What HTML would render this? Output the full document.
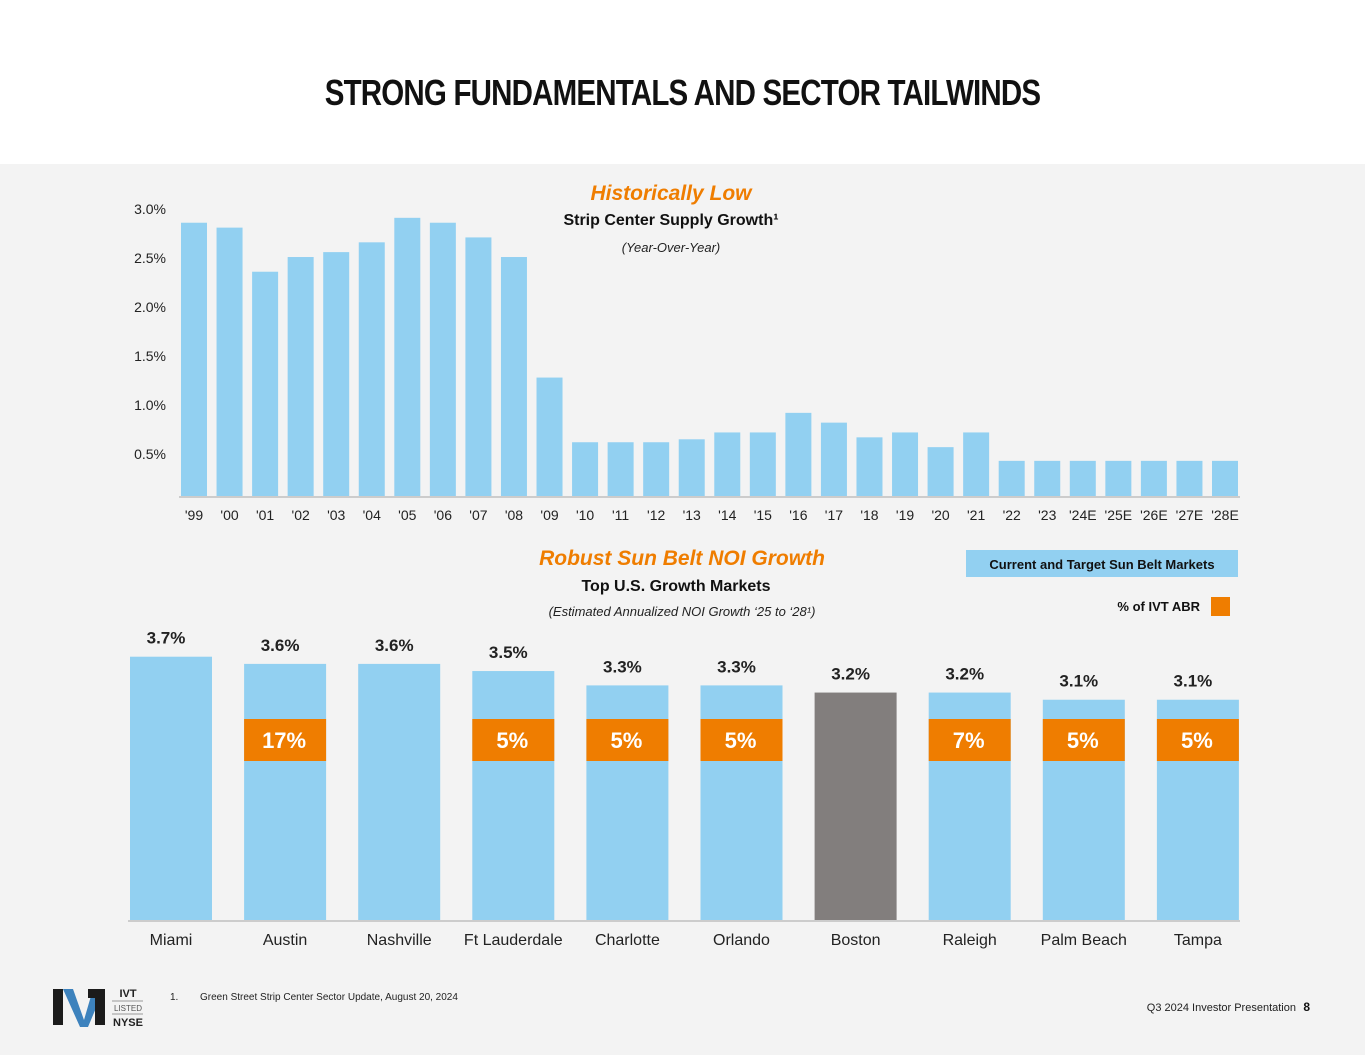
<!DOCTYPE html>
<html><head><meta charset="utf-8"><style>
body{margin:0;width:1365px;height:1055px;background:#fff;font-family:"Liberation Sans",sans-serif;overflow:hidden;position:relative}
#title{position:absolute;top:72px;width:100%;text-align:center;font-size:36px;font-weight:bold;letter-spacing:-1px;transform:scaleX(0.82);color:#111}
#panel{position:absolute;top:164px;left:0;width:1365px;height:891px;background:#f3f3f3}
svg{position:absolute;top:0;left:0}
</style></head><body>
<div id="title">STRONG FUNDAMENTALS AND SECTOR TAILWINDS</div>
<div id="panel"></div>
<svg id="chart" width="1365" height="1055" font-family="Liberation Sans, sans-serif">
<text x="671" y="200" text-anchor="middle" font-size="21" font-weight="bold" font-style="italic" fill="#ef7d00">Historically Low</text>
<text x="671" y="225" text-anchor="middle" font-size="16" font-weight="bold" fill="#111">Strip Center Supply Growth¹</text>
<text x="671" y="252" text-anchor="middle" font-size="13" font-style="italic" fill="#222">(Year-Over-Year)</text>
<text x="682" y="565" text-anchor="middle" font-size="21" font-weight="bold" font-style="italic" fill="#ef7d00">Robust Sun Belt NOI Growth</text>
<text x="676" y="591" text-anchor="middle" font-size="16" font-weight="bold" fill="#111">Top U.S. Growth Markets</text>
<text x="682" y="616" text-anchor="middle" font-size="13" font-style="italic" fill="#222">(Estimated Annualized NOI Growth ‘25 to ‘28¹)</text>
<rect x="966" y="550" width="272" height="27" fill="#92d0f1"/>
<text x="1102" y="569" text-anchor="middle" font-size="13" font-weight="bold" fill="#111">Current and Target Sun Belt Markets</text>
<text x="1200" y="611" text-anchor="end" font-size="13" font-weight="bold" fill="#111">% of IVT ABR</text>
<rect x="1211" y="597" width="19" height="19" fill="#ef7d00"/>
<g id="topchart"></g>
<g id="botchart"></g>
<g>
<polygon points="53,989 63,989 63,1025 53,1025" fill="#1b1b1b"/>
<polygon points="63,989 73,989 84,1020 93,989 104,989 88,1027 80,1027" fill="#3d82bd"/>
<polygon points="95,989 105,989 105,1025 95,1025" fill="#1b1b1b"/>
<rect x="88" y="989" width="16" height="9" fill="#1b1b1b"/>
<text x="128" y="997" text-anchor="middle" font-size="11" font-weight="bold" fill="#222">IVT</text>
<line x1="112" y1="1001" x2="143" y2="1001" stroke="#999"/>
<text x="128" y="1011" text-anchor="middle" font-size="8" fill="#555">LISTED</text>
<line x1="112" y1="1014" x2="143" y2="1014" stroke="#999"/>
<text x="128" y="1026" text-anchor="middle" font-size="11" font-weight="bold" fill="#222">NYSE</text>
</g>
<text x="170" y="1000" font-size="10" fill="#222">1.</text>
<text x="200" y="1000" font-size="10" fill="#222">Green Street Strip Center Sector Update, August 20, 2024</text>
<text x="1296" y="1011" text-anchor="end" font-size="11" fill="#222">Q3 2024 Investor Presentation</text>
<text x="1310" y="1011" text-anchor="end" font-size="12" font-weight="bold" fill="#111">8</text>
</svg>
<script>
const years=["'99","'00","'01","'02","'03","'04","'05","'06","'07","'08","'09","'10","'11","'12","'13","'14","'15","'16","'17","'18","'19","'20","'21","'22","'23","'24E","'25E","'26E","'27E","'28E"];
const supply=[2.86,2.81,2.36,2.51,2.56,2.66,2.91,2.86,2.71,2.51,1.28,0.62,0.62,0.62,0.65,0.72,0.72,0.92,0.82,0.67,0.72,0.57,0.72,0.43,0.43,0.43,0.43,0.43,0.43,0.43];
const yTicks=[0.5,1.0,1.5,2.0,2.5,3.0];
const markets=["Miami","Austin","Nashville","Ft Lauderdale","Charlotte","Orlando","Boston","Raleigh","Palm Beach","Tampa"];
const noi=[3.7,3.6,3.6,3.5,3.3,3.3,3.2,3.2,3.1,3.1];
const abr=[null,17,null,5,5,5,null,7,5,5];
const NS="http://www.w3.org/2000/svg";
function mk(p,t,a,txt){const e=document.createElementNS(NS,t);for(const k in a)e.setAttribute(k,a[k]);if(txt!=null)e.textContent=txt;p.appendChild(e);return e;}
const topG=document.getElementById('topchart');
const tx=i=>181+i*(1031/(years.length-1)), ty=v=>503-v*98, base=496;
yTicks.forEach(v=>{const t=mk(topG,'text',{x:166,y:ty(v)+5,'text-anchor':'end','font-size':14,fill:'#222'},v.toFixed(1)+'%');

});
supply.forEach((v,i)=>{const r=mk(topG,'rect',{x:tx(i),y:ty(v),width:26,height:base-ty(v),fill:'#92d0f1'});


const t=mk(topG,'text',{x:tx(i)+13,y:520,'text-anchor':'middle','font-size':14,fill:'#222'},years[i]);

});
const l1=mk(topG,'line',{x1:179,x2:1240,y1:base+1,y2:base+1,stroke:'#ccc','stroke-width':2});


const botG=document.getElementById('botchart');
const bx=i=>130+i*114.1, by=v=>922-v*71.7, bb=920;
noi.forEach((v,i)=>{const r=mk(botG,'rect',{x:bx(i),y:by(v),width:82,height:bb-by(v),fill:markets[i]==='Boston'?'#827e7d':'#92d0f1'});


const t=mk(botG,'text',{x:bx(i)+36,y:by(v)-13,'text-anchor':'middle','font-size':17,'font-weight':'bold',fill:'#222'},v.toFixed(1)+'%');


const c=mk(botG,'text',{x:bx(i)+41,y:945,'text-anchor':'middle','font-size':16,fill:'#222'},markets[i]);


if(abr[i]!=null){const o=mk(botG,'rect',{x:bx(i),y:719,width:82,height:42,fill:'#ef7d00'});


const ot=mk(botG,'text',{x:bx(i)+40,y:748,'text-anchor':'middle','font-size':22,'font-weight':'bold',fill:'#fff'},abr[i]+'%');

}});
const l2=mk(botG,'line',{x1:128,x2:1240,y1:bb+1,y2:bb+1,stroke:'#ccc','stroke-width':2});


</script>
</body></html>
